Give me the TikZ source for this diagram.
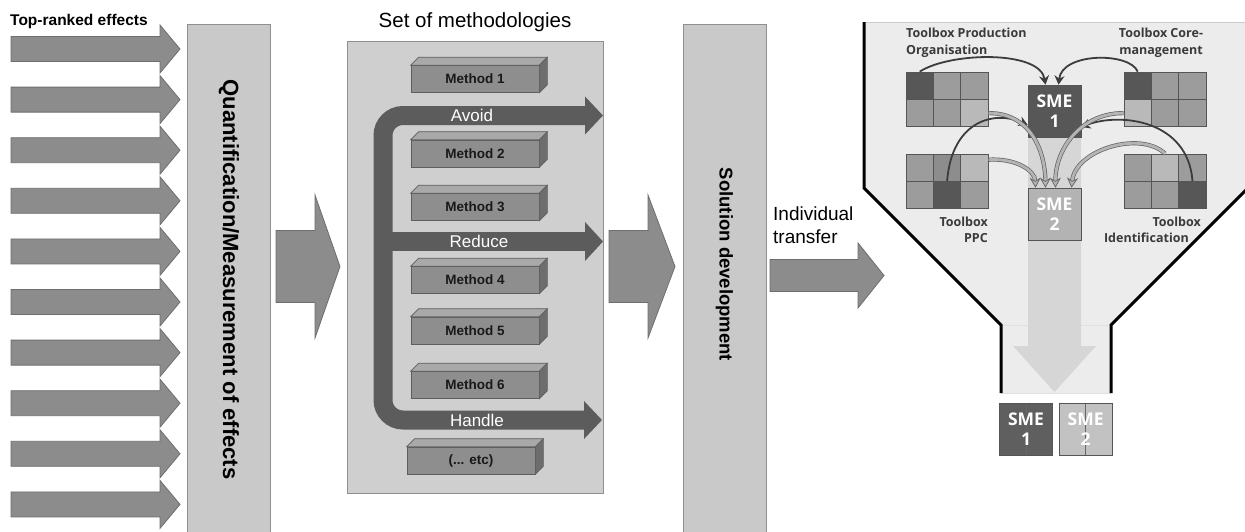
\documentclass[tikz,border=0pt]{standalone}
\usepackage{fontspec}
\setmainfont{Liberation Sans}
\newfontfamily\tbfont{Open Sans}
\usepackage{tikz}
\usetikzlibrary{arrows.meta,positioning,calc}

\definecolor{arrowgray}{HTML}{8C8C8C}
\definecolor{arrowedge}{HTML}{6E6E6E}
\definecolor{barfill}{HTML}{C9C9C9}
\definecolor{baredge}{HTML}{8F8F8F}
\definecolor{setfill}{HTML}{CFCFCF}
\definecolor{methfront}{HTML}{8E8E8E}
\definecolor{methtop}{HTML}{A9A9A9}
\definecolor{methside}{HTML}{6D6D6D}
\definecolor{methedge}{HTML}{5E5E5E}
\definecolor{bracket}{HTML}{5C5C5C}
\definecolor{funnelfill}{HTML}{ECECEC}
\definecolor{flowfill}{HTML}{D6D6D6}
\definecolor{celldark}{HTML}{575757}
\definecolor{cellmid}{HTML}{9C9C9C}
\definecolor{cellmidd}{HTML}{8D8D8D}
\definecolor{celllight}{HTML}{B9B9B9}
\definecolor{celledge}{HTML}{555555}
\definecolor{smelight}{HTML}{B3B3B3}
\definecolor{labelgray}{HTML}{3A3A3A}
\definecolor{arcdark}{HTML}{3C3C3C}
\definecolor{arcfill}{HTML}{B4B4B4}

% block arrow: tail x, head base x, tip x, centre y, shaft half height, head half height
\newcommand{\blockarrow}[6]{%
  \draw[blk] (#1,#4-#5) -- (#2,#4-#5) -- (#2,#4-#6) -- (#3,#4) -- (#2,#4+#6) -- (#2,#4+#5) -- (#1,#4+#5) -- cycle;}

% 3x2 toolbox grid, cells named <name>-<row><col>
\newcommand{\toolgrid}[4]{%
  \foreach \fc [count=\k from 0] in {#4} {
    \pgfmathtruncatemacro\row{div(\k,3)}
    \pgfmathtruncatemacro\col{mod(\k,3)}
    \node[cell, fill=\fc] (#1-\row\col) at ({#2+27.4*\col+13.7},{#3+27.4*\row+13.7}) {};
  }}

\begin{document}
\begin{tikzpicture}[x=1pt, y=-1pt, >=Latex,
  blk/.style={draw=arrowedge, fill=arrowgray, line width=0.8pt},
  bar/.style={draw=baredge, fill=barfill, line width=0.8pt, minimum width=83pt, minimum height=516pt, inner sep=0pt},
  vtext/.style={rotate=-90, font=\bfseries\fontsize{22}{25}\selectfont, inner sep=0pt},
  setbox/.style={draw=baredge, fill=setfill, line width=0.8pt, minimum width=256pt, minimum height=452pt, inner sep=0pt},
  method/.style={draw=methedge, fill=methfront, line width=0.6pt, minimum width=128pt, minimum height=27pt, inner sep=0pt,
    font=\bfseries\fontsize{13.5}{16}\selectfont, text=black!90},
  flow/.style={draw=bracket, line width=19pt, rounded corners=20pt},
  flowtext/.style={text=white, font=\fontsize{17}{20}\selectfont, inner sep=0pt},
  cell/.style={draw=celledge, line width=0.7pt, minimum size=27.4pt, inner sep=0pt},
  sme/.style={draw=celledge, line width=0.6pt, minimum width=53pt, minimum height=52pt, inner sep=0pt, align=center,
    text=white, font=\tbfont\bfseries\fontsize{17.5}{20}\selectfont},
  splitline/.style={path picture={\draw[line width=0.6pt, draw=#1] (path picture bounding box.north) -- (path picture bounding box.south);}},
  tblabel/.style={text=labelgray, inner sep=0pt, font=\tbfont\bfseries\fontsize{12.5}{17}\selectfont},
  toarc/.style={draw=arcdark, line width=1.8pt, -{Stealth[length=9pt,width=10pt]}},
  toarcb/.style={draw=arcdark!80, double=arcfill, double distance=2.8pt, line width=0.7pt, -{Stealth[length=10pt,width=11pt,fill=arcfill]}}]

  \useasboundingbox (0,0) rectangle (1245,531);
  \fill[white] (0,0) rectangle (1245,531);

  % effects feeding the quantification step
  \node[anchor=base west, inner sep=0pt, font=\bfseries\fontsize{15.5}{18}\selectfont] (toplabel) at (10,25) {Top-ranked effects};
  \foreach \i in {0,...,9} {
    \pgfmathsetmacro\yc{49+50.6*\i}
    \blockarrow{11}{160}{180}{\yc}{12.5}{24}
  }
  \node[bar] (quant) at (229,282) {};
  \node[vtext] (quanttext) at (229,279.5) {Quantification/Measurement of effects};

  \blockarrow{276}{315}{340}{266.5}{36}{71.5}

  % set of methodologies
  \node[setbox] (set) at (475,267) {};
  \node[anchor=base, inner sep=0pt, font=\fontsize{20.5}{24}\selectfont] (settitle) at (475,27.5) {Set of methodologies};

  \node[method] (m1) at (475,79) {Method 1};
  \node[method] (m2) at (475,153.5) {Method 2};
  \node[method] (m3) at (475,207) {Method 3};
  \node[method] (m4) at (475,280) {Method 4};
  \node[method] (m5) at (475,330.5) {Method 5};
  \node[method] (m6) at (475,385) {Method 6};
  \node[method] (etc) at (471,460.5) {(... etc)};
  \foreach \m in {m1,m2,m3,m4,m5,m6,etc} {
    \draw[methedge, fill=methtop, line width=0.6pt] (\m.north west) -- ++(8,-8) -- ($(\m.north east)+(8,-8)$) -- (\m.north east) -- cycle;
    \draw[methedge, fill=methside, line width=0.6pt] (\m.north east) -- ($(\m.north east)+(8,-8)$) -- ($(\m.south east)+(8,-8)$) -- (\m.south east) -- cycle;
  }

  % avoid / reduce / handle
  \draw[flow, {Triangle[length=18pt,width=37pt]}-{Triangle[length=18pt,width=37pt]}]
    (603,115.5) -- (383,115.5) -- (383,420) -- (602,420);
  \draw[flow, -{Triangle[length=18pt,width=38pt]}] (383,241.5) -- (603,241.5);
  \node[flowtext] (avoid) at (472,115.5) {Avoid};
  \node[flowtext] (reduce) at (479,241.5) {Reduce};
  \node[flowtext] (handle) at (477,420) {Handle};

  \blockarrow{609}{648}{675}{266.5}{36}{71.5}

  % solution development
  \node[bar] (sol) at (724.5,282) {};
  \node[vtext, font=\bfseries\fontsize{18.5}{22}\selectfont] (soltext) at (724.5,264.5) {Solution development};

  \node[anchor=west, align=left, inner sep=0pt, font=\fontsize{19}{22.5}\selectfont] (transfer) at (773,225) {Individual\\transfer};
  \blockarrow{770}{858}{884}{275.5}{16}{32.5}

  % funnel
  \fill[funnelfill] (864,22) -- (1248,22) -- (1248,188) -- (1111,325) -- (1111,393) -- (1001,393) -- (1001,325) -- (864,188) -- cycle;
  \draw[black!20, line width=0.8pt] (864,22) -- (1248,22);
  \draw[black!12, line width=0.8pt] (1001,325) -- (1111,325) (1001,393) -- (1111,393);
  \fill[flowfill] (1028,100) -- (1081,100) -- (1081,346) -- (1096,346) -- (1054.5,392) -- (1013,346) -- (1028,346) -- cycle;
  \draw[black, line width=3pt] (864,22) -- (864,188) -- (1001,325) -- (1001,393);
  \draw[black, line width=3pt] (1248,22) -- (1248,188) -- (1111,325) -- (1111,393);

  \toolgrid{tl}{906}{72}{celldark,cellmid,cellmid,cellmid,cellmid,celllight}
  \toolgrid{tr}{1124}{72}{celldark,cellmid,cellmid,celllight,cellmid,cellmid}
  \toolgrid{bl}{906}{154}{cellmid,cellmidd,celllight,cellmid,celldark,cellmid}
  \toolgrid{br}{1124}{154}{cellmid,celllight,cellmid,cellmid,cellmid,celldark}

  \node[sme, fill=celldark] (sme1) at (1054.5,111) {SME\\1};
  \node[sme, fill=smelight] (sme2) at (1054.5,214) {SME\\2};

  \node[tblabel, anchor=west, align=left] (tbprod) at (906,42.5) {Toolbox Production\\Organisation};
  \node[tblabel, anchor=center, align=center] (tbcore) at (1161,42.5) {Toolbox Core-\\management};
  \node[tblabel, anchor=east, align=right, font=\tbfont\bfseries\fontsize{12.5}{16}\selectfont] (tbppc) at (988,229.5) {Toolbox\\PPC};
  \node[tblabel, anchor=east, align=right, font=\tbfont\bfseries\fontsize{12.5}{16}\selectfont] (tbident) at (1201,229.5) {Toolbox\\Identification\hspace*{12pt}};

  % toolbox contributions
  \draw[toarc] (tl-00.north) .. controls (950,52) and (1040,50) .. ([xshift=-9pt]sme1.north);
  \draw[toarc] (tr-00.north) .. controls (1130,52) and (1062,52) .. ([xshift=4pt]sme1.north);
  \draw[toarc] (bl-11.north) .. controls (952,120) and (995,110) .. ([yshift=-14pt]sme1.west);
  \draw[toarc] (br-12.north) .. controls (1188,120) and (1120,112) .. ([yshift=-16pt]sme1.east);
  \draw[toarcb] (tl-12.east) .. controls (1030,113) and (1045,150) .. ([xshift=-9pt]sme2.north);
  \draw[toarcb] ([yshift=8pt]bl-02.east) .. controls (1015,158) and (1035,170) .. ([xshift=-19pt]sme2.north);
  \draw[toarcb] (tr-10.west) .. controls (1080,113) and (1055,150) .. ([xshift=1pt]sme2.north);
  \draw[toarcb] (br-01.north) .. controls (1140,130) and (1075,150) .. ([xshift=17pt]sme2.north);

  % outcome per SME
  \node[sme, fill=celldark!95, splitline=black!60] (out1) at (1026,429.5) {SME\\1};
  \node[sme, fill=black!24, splitline=black!60, right=6pt of out1] (out2) {SME\\2};
\end{tikzpicture}
\end{document}
